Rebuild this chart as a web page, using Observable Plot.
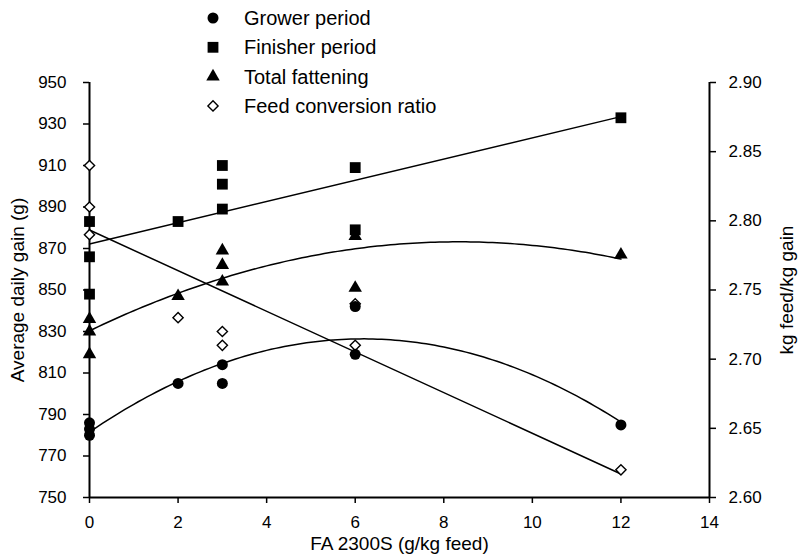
<!DOCTYPE html>
<html><head><meta charset="utf-8">
<script src="https://cdn.jsdelivr.net/npm/d3@7"></script>
<script src="https://cdn.jsdelivr.net/npm/@observablehq/plot@0.6"></script>
<style>
body{margin:0;background:#fff;font-family:"Liberation Sans",Arial,sans-serif;}
#wrap{position:relative;width:798px;height:554px;}
#legend{position:absolute;left:0;top:0;pointer-events:none;}
</style></head><body><div id="wrap"></div>
<script>
// ---- data ----
const growerDose = [0, 0, 0, 2, 3, 3, 6, 6, 12];
const growerGain = [786, 783, 780, 805, 814, 805, 842, 819, 785];
const finisherDose = [0, 0, 0, 2, 3, 3, 3, 6, 6, 12];
const finisherGain = [883, 866, 848, 883, 910, 901, 889, 909, 879, 933];
const totalDose = [0, 0, 0, 2, 3, 3, 3, 6, 6, 12];
const totalGain = [836, 830, 819, 847, 869, 862, 854, 876, 851, 867];
const fcrDose = [0, 0, 0, 2, 3, 3, 6, 6, 12];
const fcrValue = [2.84, 2.81, 2.79, 2.73, 2.72, 2.71, 2.74, 2.71, 2.62];
const xTicks = [0, 2, 4, 6, 8, 10, 12, 14];
const yTicks = [750, 770, 790, 810, 830, 850, 870, 890, 910, 930, 950];
const fcrTicks = [2.60, 2.65, 2.70, 2.75, 2.80, 2.85, 2.90];
const seriesNames = ["Grower period", "Finisher period", "Total fattening", "Feed conversion ratio"];

// right axis (FCR) mapped onto the left scale
const fcrToLeft = r => 750 + (r - 2.60) * (200 / 0.30);
const leftToFcr = v => (v - 750) * 0.30 / 200 + 2.60;

const toRows = (xs, ys) => xs.map((x, i) => ({x, y: ys[i]}));
const grower = toRows(growerDose, growerGain);
const finisher = toRows(finisherDose, finisherGain);
const total = toRows(totalDose, totalGain);
const fcr = toRows(fcrDose, fcrValue.map(fcrToLeft));

// least-squares polynomial fit (degree 2), like the spreadsheet trendline
function quadFit(rows) {
  const S = k => d3.sum(rows, r => r.x ** k);
  const T = k => d3.sum(rows, r => r.y * r.x ** k);
  const A = [[S(0), S(1), S(2)], [S(1), S(2), S(3)], [S(2), S(3), S(4)]];
  const b = [T(0), T(1), T(2)];
  for (let i = 0; i < 3; i++) {
    for (let j = i + 1; j < 3; j++) {
      const f = A[j][i] / A[i][i];
      for (let k = i; k < 3; k++) A[j][k] -= f * A[i][k];
      b[j] -= f * b[i];
    }
  }
  const c = [0, 0, 0];
  for (let i = 2; i >= 0; i--) {
    let s = b[i];
    for (let k = i + 1; k < 3; k++) s -= A[i][k] * c[k];
    c[i] = s / A[i][i];
  }
  return x => c[0] + c[1] * x + c[2] * x * x;
}
const xmax = d3.max(growerDose);
const grid = d3.range(0, xmax + 0.001, 0.1);
const curve = f => grid.map(x => ({x, y: f(x)}));
const growerFit = curve(quadFit(grower));
const totalFit = curve(quadFit(total));

const font = "Liberation Sans, Arial, sans-serif";
const tickFs = 17, titleFs = 19, legendFs = 20;
const plot = Plot.plot({
  width: 798, height: 554,
  marginLeft: 89, marginRight: 89, marginTop: 82, marginBottom: 57,
  style: {fontFamily: font, fontSize: tickFs + "px", color: "#000", background: "#fff", overflow: "visible"},
  x: {domain: [0, 14]},
  y: {domain: [750, 950]},
  marks: [
    Plot.axisX({ticks: xTicks, tickSize: 6, tickPadding: 12, strokeWidth: 1.5, label: null, fontSize: tickFs}),
    Plot.axisY({ticks: yTicks, tickSize: 6, tickPadding: 17, strokeWidth: 1.5, label: null, fontSize: tickFs}),
    Plot.axisY({anchor: "right", ticks: fcrTicks.map(fcrToLeft), tickFormat: d => leftToFcr(d).toFixed(2),
      tickSize: 6, tickPadding: 13, strokeWidth: 1.5, label: null, fontSize: tickFs}),
    Plot.ruleX([0], {stroke: "#000", strokeWidth: 2}),
    Plot.ruleX([14], {stroke: "#000", strokeWidth: 2}),
    Plot.ruleY([750], {stroke: "#000", strokeWidth: 2}),
    Plot.text(["Average daily gain (g)"], {frameAnchor: "left", rotate: -90, dx: -72, textAnchor: "middle", lineAnchor: "middle", fontSize: titleFs}),
    Plot.text(["kg feed/kg gain"], {frameAnchor: "right", rotate: -90, dx: 77, textAnchor: "middle", lineAnchor: "middle", fontSize: titleFs}),
    Plot.text(["FA 2300S (g/kg feed)"], {frameAnchor: "bottom", dy: 46, textAnchor: "middle", lineAnchor: "middle", fontSize: titleFs}),
    // trend lines
    Plot.linearRegressionY(finisher, {x: "x", y: "y", stroke: "#000", strokeWidth: 1.5, ci: 0}),
    Plot.linearRegressionY(fcr, {x: "x", y: "y", stroke: "#000", strokeWidth: 1.5, ci: 0}),
    Plot.line(growerFit, {x: "x", y: "y", stroke: "#000", strokeWidth: 1.5}),
    Plot.line(totalFit, {x: "x", y: "y", stroke: "#000", strokeWidth: 1.5}),
    // points
    Plot.dot(fcr, {x: "x", y: "y", symbol: "diamond2", r: 4.6, fill: "#fff", stroke: "#000", strokeWidth: 1.4}),
    Plot.dot(total, {x: "x", y: "y", symbol: "triangle", r: 5, fill: "#000", stroke: "none"}),
    Plot.dot(finisher, {x: "x", y: "y", symbol: "square", r: 6.1, fill: "#000", stroke: "none"}),
    Plot.dot(grower, {x: "x", y: "y", symbol: "circle", r: 5.5, fill: "#000", stroke: "none"})
  ]
});
const wrap = document.getElementById("wrap");
wrap.appendChild(plot);

// legend
const leg = d3.select(wrap).append("svg").attr("id", "legend").attr("width", 798).attr("height", 120);
const syms = [
  {t: d3.symbolCircle, s: Math.PI * 5.5 * 5.5, fill: "#000", stroke: "none"},
  {t: d3.symbolSquare, s: Math.PI * 6.1 * 6.1, fill: "#000", stroke: "none"},
  {t: d3.symbolTriangle, s: Math.PI * 25, fill: "#000", stroke: "none"},
  {t: d3.symbolDiamond2, s: Math.PI * 4.6 * 4.6, fill: "#fff", stroke: "#000"}
];
seriesNames.forEach((name, i) => {
  const cy = 18 + i * 29.3;
  leg.append("path").attr("d", d3.symbol(syms[i].t, syms[i].s)())
    .attr("transform", `translate(213,${cy})`)
    .attr("fill", syms[i].fill).attr("stroke", syms[i].stroke).attr("stroke-width", 1.4);
  leg.append("text").attr("x", 244).attr("y", cy).attr("dy", "0.35em")
    .attr("font-family", font).attr("font-size", legendFs).attr("fill", "#000").text(name);
});
</script></body></html>
